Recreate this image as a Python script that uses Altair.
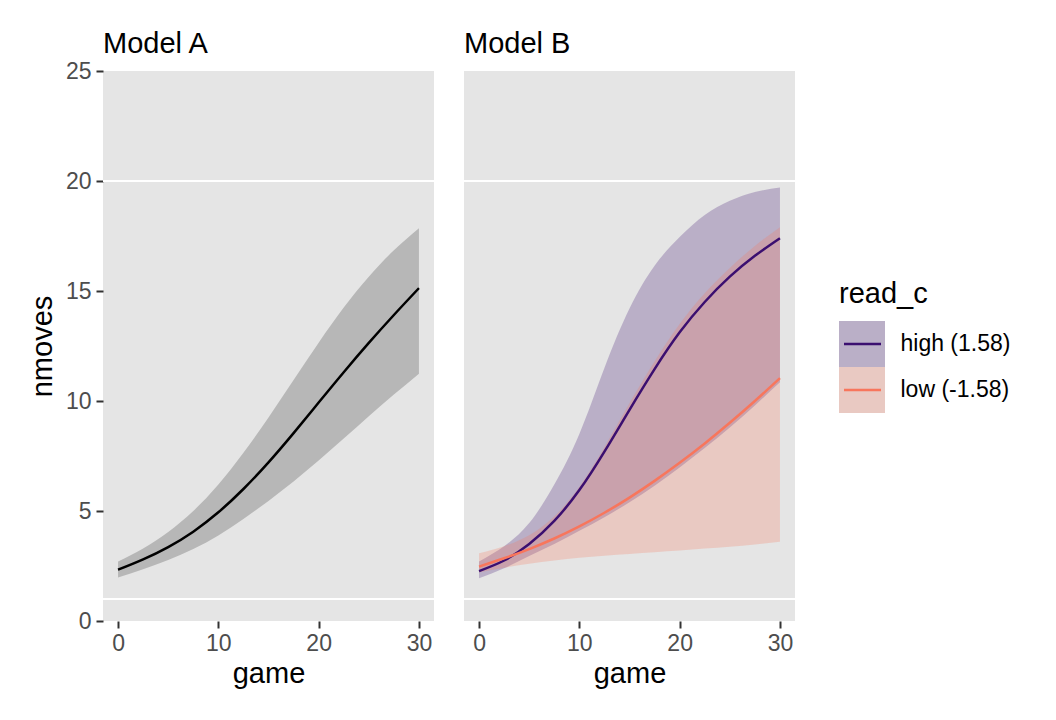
import altair as alt
import pandas as pd

# ---- data ----
game = [0, 2.5, 5, 7.5, 10, 12.5, 15, 17.5, 20, 22.5, 25, 27.5, 30]

a_mean = [2.33, 2.80, 3.36, 4.06, 4.94, 6.00, 7.21, 8.54, 9.93, 11.31, 12.64, 13.91, 15.13]
a_lo = [1.98, 2.35, 2.77, 3.27, 3.89, 4.64, 5.46, 6.34, 7.29, 8.29, 9.31, 10.29, 11.24]
a_hi = [2.70, 3.30, 4.05, 5.00, 6.20, 7.65, 9.25, 10.95, 12.65, 14.25, 15.65, 16.85, 17.85]

high_mean = [2.27, 2.75, 3.50, 4.55, 5.95, 7.70, 9.60, 11.45, 13.12, 14.50, 15.65, 16.60, 17.40]
high_lo = [1.94, 2.40, 2.95, 3.50, 4.10, 4.72, 5.40, 6.15, 6.98, 7.86, 8.80, 9.80, 10.85]
high_hi = [2.70, 3.40, 4.45, 6.20, 8.50, 11.50, 14.20, 16.15, 17.45, 18.45, 19.10, 19.50, 19.70]

low_mean = [2.47, 2.85, 3.27, 3.75, 4.30, 4.92, 5.61, 6.37, 7.19, 8.07, 9.01, 10.00, 11.04]
low_lo = [2.20, 2.42, 2.60, 2.75, 2.87, 2.97, 3.05, 3.13, 3.20, 3.29, 3.38, 3.48, 3.60]
low_hi = [3.08, 3.40, 3.90, 4.75, 6.10, 7.90, 9.90, 11.80, 13.50, 14.90, 16.05, 17.05, 17.90]

groups = ["high (1.58)", "low (-1.58)"]
group_colors = ["#3B0F70", "#F8765C"]
hlines = [1, 20]
x_ticks = [0, 10, 20, 30]
y_ticks = [0, 5, 10, 15, 20, 25]

FONT = "Liberation Sans"
BG = "#E5E5E5"
INTERP = "natural"

df_a = pd.DataFrame({"game": game, "mean": a_mean, "lo": a_lo, "hi": a_hi})
df_b = pd.concat([
    pd.DataFrame({"game": game, "mean": high_mean, "lo": high_lo, "hi": high_hi, "read_c": groups[0]}),
    pd.DataFrame({"game": game, "mean": low_mean, "lo": low_lo, "hi": low_hi, "read_c": groups[1]}),
], ignore_index=True)
df_h = pd.DataFrame({"y": hlines})
df_leg = pd.DataFrame({"read_c": groups})

xscale = alt.Scale(domain=[-1.5, 31.5], nice=False, zero=False)
yscale = alt.Scale(domain=[0, 25], nice=False)

xaxis = alt.Axis(values=x_ticks, grid=False, domain=False, tickColor="#333333",
                 tickSize=7, tickWidth=2, labelColor="#4D4D4D", labelFontSize=23,
                 labelFont=FONT, labelPadding=4, title="game", titleFont=FONT,
                 titleFontSize=29, titleFontWeight="normal", titleColor="black",
                 titlePadding=4)
yaxis = alt.Axis(values=y_ticks, grid=False, domain=False, tickColor="#333333",
                 tickSize=7, tickWidth=2, labelColor="#4D4D4D", labelFontSize=23,
                 labelFont=FONT, labelPadding=5, title="nmoves", titleFont=FONT,
                 titleFontSize=29, titleFontWeight="normal", titleColor="black",
                 titlePadding=8)

def strip(text, offset):
    return alt.TitleParams(text, anchor="start", frame="group", fontSize=29,
                           font=FONT, fontWeight="normal", color="black", offset=offset)

W, H = 331, 550

# ---- Model A ----
rules_a = alt.Chart(df_h).mark_rule(color="white", strokeWidth=2.2).encode(
    y=alt.Y("y:Q", scale=yscale, axis=yaxis))
area_a = alt.Chart(df_a).mark_area(color="black", opacity=0.2, interpolate=INTERP).encode(
    x=alt.X("game:Q", scale=xscale, axis=xaxis),
    y=alt.Y("lo:Q", scale=yscale, axis=yaxis), y2="hi:Q")
line_a = alt.Chart(df_a).mark_line(color="black", strokeWidth=2.5, interpolate=INTERP).encode(
    x=alt.X("game:Q", scale=xscale, axis=xaxis),
    y=alt.Y("mean:Q", scale=yscale, axis=yaxis))
panel_a = alt.layer(rules_a, area_a, line_a).properties(
    width=W, height=H, title=strip("Model A", 1),
    view=alt.ViewBackground(fill=BG, strokeWidth=0))

# ---- Model B ----
cscale = alt.Scale(domain=groups, range=group_colors)
rules_b = alt.Chart(df_h).mark_rule(color="white", strokeWidth=2.2).encode(
    y=alt.Y("y:Q", scale=yscale, axis=None))
area_b = alt.Chart(df_b).mark_area(opacity=0.25, interpolate=INTERP).encode(
    x=alt.X("game:Q", scale=xscale, axis=xaxis),
    y=alt.Y("lo:Q", scale=yscale, axis=None), y2="hi:Q",
    color=alt.Color("read_c:N", scale=cscale, legend=None))
line_b = alt.Chart(df_b).mark_line(strokeWidth=2.5, interpolate=INTERP).encode(
    x=alt.X("game:Q", scale=xscale, axis=xaxis),
    y=alt.Y("mean:Q", scale=yscale, axis=None),
    color=alt.Color("read_c:N", scale=cscale, legend=None))
panel_b = alt.layer(rules_b, area_b, line_b).properties(
    width=W, height=H, title=strip("Model B", 12),
    view=alt.ViewBackground(fill=BG, strokeWidth=0))

# ---- legend (ggplot style keys) ----
lyscale = alt.Scale(domain=groups, range=[250, 342], paddingInner=0, paddingOuter=0)
lyaxis = alt.Axis(orient="right", domain=False, ticks=False, labelFontSize=23,
                  labelFont=FONT, labelColor="black", labelPadding=15, title=None)
key_bg = alt.Chart(df_leg).mark_rect(color=BG).encode(
    y=alt.Y("read_c:N", scale=lyscale, axis=lyaxis, sort=groups),
    x=alt.value(0), x2=alt.value(46))
key_fill = alt.Chart(df_leg).mark_rect(opacity=0.25).encode(
    y=alt.Y("read_c:N", scale=lyscale, axis=lyaxis, sort=groups),
    x=alt.value(0), x2=alt.value(46),
    color=alt.Color("read_c:N", scale=cscale, legend=None))
key_line = alt.Chart(df_leg).mark_rule(strokeWidth=2.5).encode(
    y=alt.Y("read_c:N", scale=lyscale, axis=lyaxis, sort=groups, bandPosition=0.5),
    x=alt.value(5), x2=alt.value(42),
    color=alt.Color("read_c:N", scale=cscale, legend=None))
leg_title = alt.Chart(pd.DataFrame({"t": ["read_c"]})).mark_text(
    align="left", baseline="alphabetic", fontSize=29, font=FONT, color="black").encode(
    text="t:N", x=alt.value(0), y=alt.value(232))
legend = alt.layer(key_bg, key_fill, key_line, leg_title).properties(width=46, height=H)

panels = alt.hconcat(panel_a, panel_b, spacing=26)
chart = alt.hconcat(panels, legend, spacing=42).resolve_scale(
    color="shared").properties(
    padding={"left": 20, "top": 22, "right": 5, "bottom": 5}).configure_view(
    strokeWidth=0)

chart.save("out.html", embed_options={"renderer": "svg", "actions": False})
